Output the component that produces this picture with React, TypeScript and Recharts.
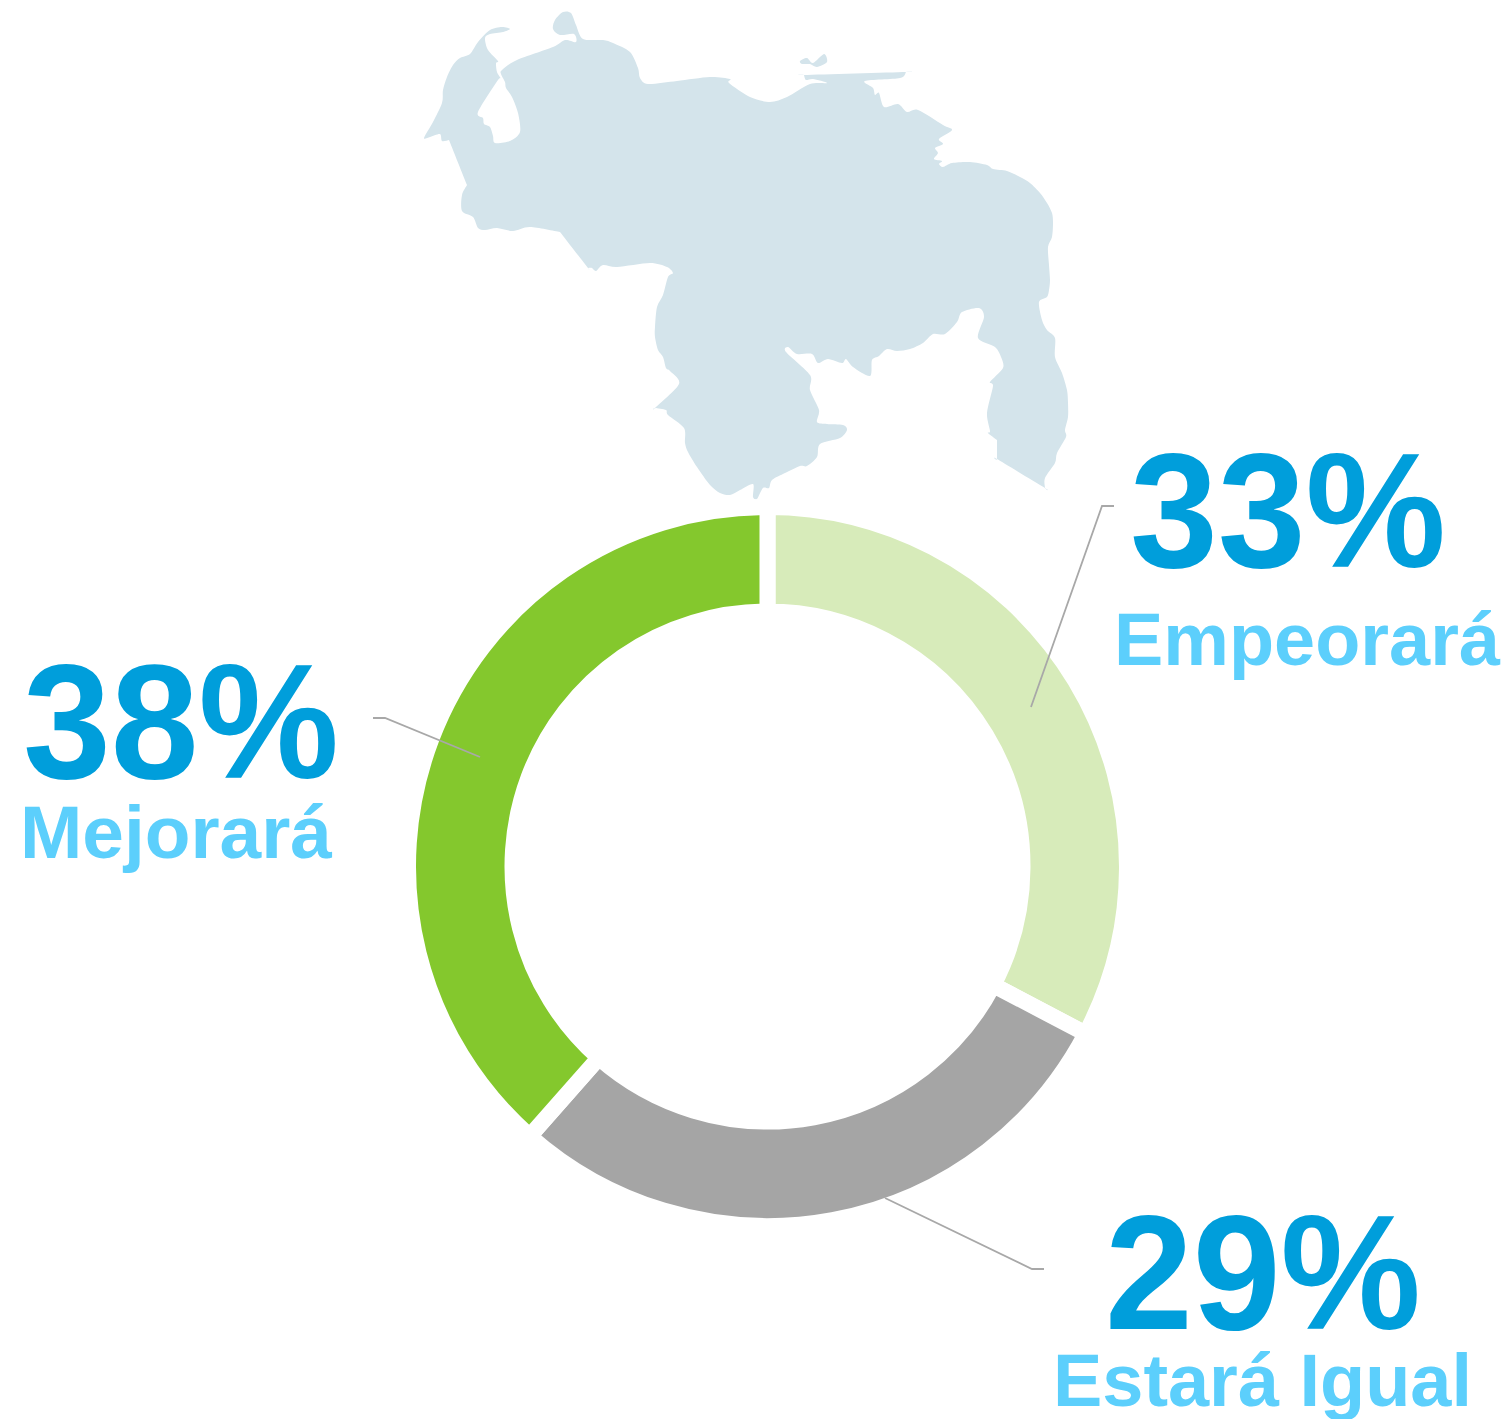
import React from 'react';
import { PieChart, Pie, Cell } from 'recharts';

const categories = ['Empeorará', 'Estará Igual', 'Mejorará'];
const percentLabels = ['33%', '29%', '38%'];
// slice shares as measured from the ring; the printed percentages round differently
const sliceShares = [32.7, 28.8, 38.5];
const sliceColors = ['#d7ebba', '#a5a5a5', '#84c82d'];

const chartData = categories.map((name, i) => ({ name, value: sliceShares[i], percent: percentLabels[i] }));

const LABEL_LAYOUT = [
  { pctX: 1130, pctY: 567, nameX: 1114, nameY: 665, nameW: 386, line: '1031,707 1102,506 1114,506' },
  { pctX: 1105, pctY: 1329, nameX: 1053, nameY: 1406, nameW: 419, line: '885,1198 1032,1269 1044,1269' },
  { pctX: 23, pctY: 778, nameX: 20, nameY: 858, nameW: 312, line: '373,718 385,718 480,757' },
];

// Venezuela silhouette, traced by eye
const MAINLAND = [
  [424,138],[433,122],[442,103],[443,90],[447,77],[453,65],[460,58],[470,54],[478,42],[490,30],[502,27],[510,29],[503,32],[490,34],[485,38],[488,50],[498,61],[496,63],[497,72],[501,79],[498,80],
  [478,112],[483,118],[484,124],[490,127],[493,136],[495,143],[510,141],[520,132],[518,113],[512,97],[506,88],[505,82],[501,74],[502,70],[517,60],[553,47],[565,40],[576,42],[574,34],
  [560,35],[553,29],[555,20],[563,12],[571,13],[576,25],[583,39],[603,40],[613,43],[630,52],[638,68],[640,78],[648,84],[677,81],[710,77],[730,79],[729,83],[750,97],[770,102],[787,97],[810,84],
  [827,83],[813,79],[806,80],[804,75],[804,75],[906,72],[906,72],[900,78],[865,81],[873,88],[875,95],[879,93],[884,107],[898,104],[907,112],[918,110],[943,125],[952,130],[939,139],[943,144],[935,148],
  [938,153],[934,159],[942,161],[939,164],[943,167],[952,163],[970,162],[987,165],[993,169],[1007,171],[1020,177],[1030,183],[1040,193],[1047,203],[1052,213],[1053,223],[1052,237],[1048,247],[1049,265],[1050,280],[1049,290],[1047,297],[1039,302],
  [1042,320],[1047,330],[1055,338],[1055,357],[1062,373],[1067,390],[1068,403],[1068,417],[1065,430],[1066,437],[1057,453],[1055,463],[1045,478],[1045,488],[1045,488],[997,459],[997,459],[997,440],[997,440],[988,433],[990,431],[987,413],[993,386],[990,382],
  [1003,368],[1001,357],[995,347],[978,338],[984,317],[979,308],[962,312],[957,322],[945,334],[933,334],[923,343],[910,349],[897,351],[887,349],[879,356],[872,360],[870,376],[853,367],[846,359],[842,363],[828,359],
  [818,363],[812,354],[797,354],[788,347],[786,352],[810,375],[810,390],[819,410],[817,422],[827,424],[843,425],[847,430],[840,438],[820,444],[817,457],[807,466],[800,466],[785,473],
  [772,480],[769,488],[763,488],[757,499],[753,497],[753,484],[740,490],[730,495],[720,493],[710,485],[697,467],[688,452],[685,443],[684,428],[668,415],[666,410],[655,408],[655,408],[679,384],[670,371],[666,368],[663,357],
  [658,350],[655,337],[655,327],[657,307],[663,295],[668,277],[673,273],[667,267],[650,263],[617,267],[603,265],[596,271],[592,268],[588,268],[588,268],[560,232],[560,232],[530,227],[513,231],[497,228],[485,230],[478,228],
  [473,217],[462,211],[462,195],[467,185],[467,185],[449,140],[449,140],[442,141],[440,134],[430,137],
];
const MARGARITA = [[800,61],[807,58],[813,63],[824,54],[827,62],[817,67],[810,64],[802,64]];

function smoothPath(pts: number[][]) {
  const n = pts.length;
  let d = `M${pts[0][0]},${pts[0][1]}`;
  for (let i = 0; i < n; i++) {
    const p0 = pts[(i - 1 + n) % n];
    const p1 = pts[i];
    const p2 = pts[(i + 1) % n];
    const p3 = pts[(i + 2) % n];
    const c1x = p1[0] + (p2[0] - p0[0]) / 7;
    const c1y = p1[1] + (p2[1] - p0[1]) / 7;
    const c2x = p2[0] - (p3[0] - p1[0]) / 7;
    const c2y = p2[1] - (p3[1] - p1[1]) / 7;
    d += `C${c1x},${c1y} ${c2x},${c2y} ${p2[0]},${p2[1]}`;
  }
  return d + 'Z';
}

const FONT = '"Liberation Sans", Arial, sans-serif';

const renderLabel = ({ index }: { index: number }) => {
  const pos = LABEL_LAYOUT[index];
  return (
    <g key={categories[index]}>
      <polyline points={pos.line} fill="none" stroke="#a8a8a8" strokeWidth={1.8} />
      <text x={pos.pctX} y={pos.pctY} fontFamily={FONT} fontWeight={700} fontSize={163} fill="#009edb" textLength={316} lengthAdjust="spacingAndGlyphs">
        {percentLabels[index]}
      </text>
      <text x={pos.nameX} y={pos.nameY} fontFamily={FONT} fontWeight={700} fontSize={74} fill="#5ccffc" textLength={pos.nameW} lengthAdjust="spacingAndGlyphs">
        {categories[index]}
      </text>
    </g>
  );
};

export default function App() {
  return (
    <div style={{ position: 'absolute', left: 0, top: 0, width: 1511, height: 1419, background: '#fff' }}>
      <PieChart width={1511} height={1419} margin={{ top: 0, right: 0, bottom: 0, left: 0 }}>
        <g>
          <path d={smoothPath(MAINLAND)} fill="#d4e4eb" />
          <path d={smoothPath(MARGARITA)} fill="#d4e4eb" />
        </g>
        <Pie
          data={chartData}
          dataKey="value"
          nameKey="name"
          cx={767.5}
          cy={866.5}
          innerRadius={255}
          outerRadius={359.5}
          startAngle={90}
          endAngle={-270}
          stroke="#ffffff"
          strokeWidth={16}
          label={renderLabel}
          labelLine={false}
          isAnimationActive={false}
        >
          {chartData.map((row, i) => (
            <Cell key={row.name} fill={sliceColors[i]} />
          ))}
        </Pie>
      </PieChart>
    </div>
  );
}
